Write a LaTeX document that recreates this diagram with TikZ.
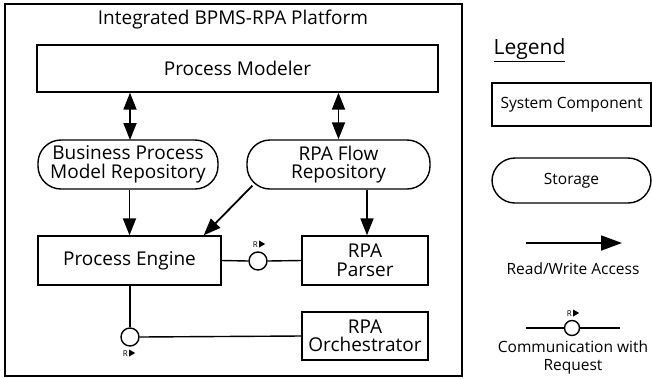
\documentclass[tikz,border=0pt]{standalone}
\usepackage{fontspec}
\setmainfont{Open Sans}
\usetikzlibrary{arrows.meta}

\tikzset{
  component/.style={draw,line width=1.4pt,inner sep=1pt,align=center,
    font=\fontsize{19}{18.5}\selectfont},
  storage/.style={component,rounded corners=23pt},
  rw/.style={line width=1.8pt,-{Triangle[length=17pt,width=13pt]}},
  link/.style={line width=1.4pt},
  request/.style={draw,circle,line width=1.4pt,fill=white,minimum size=18pt,inner sep=0pt},
  tag/.style={font=\fontsize{8}{9}\selectfont,inner sep=0pt},
  legendtext/.style={font=\fontsize{15.5}{18}\selectfont,align=center}
}
\newcommand{\reqtag}{R\,\tikz\fill (0,0) -- (0,7pt) -- (6pt,3.5pt) -- cycle;}

\begin{document}
\begin{tikzpicture}[x=1pt,y=-1pt]
  \useasboundingbox (0,0) rectangle (652,378);
  % Platform frame and title.
  \draw[line width=1.4pt] (5,4) rectangle (462,376);
  \node[font=\fontsize{19}{19}\selectfont] (title) at (233,20) {Integrated BPMS-RPA Platform};

  \node[component,minimum width=401pt,minimum height=47pt] (modeler) at (237.5,68.5) {Process Modeler};
  \node[storage,minimum width=180pt,minimum height=49pt] (bpmr) at (128,164.5) {Business Process\\Model Repository};
  \node[storage,minimum width=183pt,minimum height=49pt] (rfr) at (338.5,164.5) {RPA Flow\\Repository};
  \node[component,minimum width=183pt,minimum height=49pt] (engine) at (129.5,260.5) {Process Engine};
  \node[component,minimum width=126pt,minimum height=49pt] (parser) at (365,260.5) {RPA\\Parser};
  \node[component,minimum width=126pt,minimum height=48pt] (orch) at (365,336) {RPA\\Orchestrator};

  \node[request] (req1) at (258,261) {};
  \node[request] (req2) at (130,337) {};
  \node[tag] (tag1) at (259,244) {\reqtag};
  \node[tag] (tag2) at (129,353) {\reqtag};

  % Read/write access.
  \draw[rw,{Triangle[length=17pt,width=13pt]}-{Triangle[length=17pt,width=13pt]}]
    (modeler.south -| 130,0) -- (130,140);
  \draw[rw,{Triangle[length=17pt,width=13pt]}-{Triangle[length=17pt,width=13pt]}]
    (modeler.south -| rfr.north) -- (rfr.north);
  \draw[rw] (bpmr.south -| engine.north) -- (engine.north);
  \draw[rw] ([xshift=6pt,yshift=4pt]rfr.south west) -- ([xshift=-18pt]engine.north east);
  \draw[rw] (rfr.south -| 367,0) -- (parser.north -| 367,0);

  % Requests.
  \draw[link] (engine.east) -- (req1.west);
  \draw[link] (req1.east) -- (parser.west);
  \draw[link] (engine.south -| req2.north) -- (req2.north);
  \draw[link] (req2.east) -- (orch.west);

  % Legend.
  \node[font=\fontsize{21}{21}\selectfont] (legend) at (529.5,50) {\underline{Legend}};
  \node[component,legendtext,minimum width=159pt,minimum height=43pt]
    (lgcomp) at (571.5,104.5) {System Component};
  \node[storage,legendtext,minimum width=159pt,minimum height=45pt]
    (lgstore) at (571.5,180.5) {Storage};
  \coordinate (lgrwa) at (526,243);
  \coordinate (lgrwb) at (622,243);
  \draw[rw,-{Triangle[length=21pt,width=15pt]}] (lgrwa) -- (lgrwb);
  \node[legendtext] (lgrw) at (573,269) {Read/Write Access};
  \coordinate (lgreqa) at (526,328);
  \coordinate (lgreqb) at (620,328);
  \node[request,minimum size=15pt] (lgreq) at (572,328) {};
  \draw[link] (lgreqa) -- (lgreq.west);
  \draw[link] (lgreq.east) -- (lgreqb);
  \node[tag] (lgtag) at (573,313) {\reqtag};
  \node[legendtext] (lgcomm) at (573,357) {Communication with\\Request};
\end{tikzpicture}
\end{document}
